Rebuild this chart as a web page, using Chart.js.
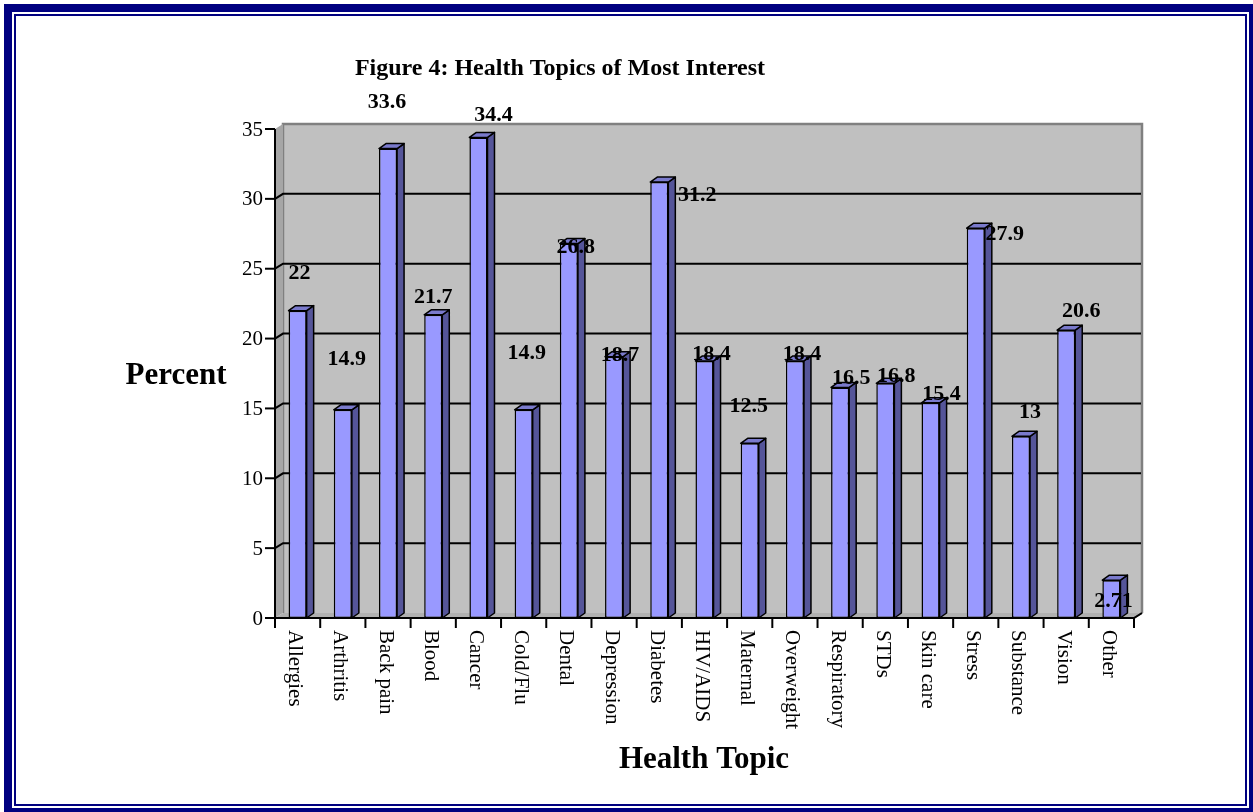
<!DOCTYPE html>
<html>
<head>
<meta charset="utf-8">
<script src="https://cdn.jsdelivr.net/npm/chart.js@4.4.1/dist/chart.umd.min.js"></script>
<style>
  html, body { margin: 0; padding: 0; background: #fff; }
  #wrap { position: relative; width: 1253px; height: 812px; }
  canvas { position: absolute; left: 0; top: 0; }
</style>
</head>
<body>
<div id="wrap"><canvas id="c" width="1253" height="812"></canvas></div>
<script>
// data
const topics = ['Allergies', 'Arthritis', 'Back pain', 'Blood', 'Cancer', 'Cold/Flu', 'Dental',
  'Depression', 'Diabetes', 'HIV/AIDS', 'Maternal', 'Overweight', 'Respiratory', 'STDs',
  'Skin care', 'Stress', 'Substance', 'Vision', 'Other'];
const percent = [22, 14.9, 33.6, 21.7, 34.4, 14.9, 26.8, 18.7, 31.2, 18.4, 12.5, 18.4, 16.5, 16.8,
  15.4, 27.9, 13, 20.6, 2.71];
const yTicks = [0, 5, 10, 15, 20, 25, 30, 35];

// label nudges (dx, dy from bar top) - mimics Excel's placement
const labelDx = [2, 4, -1, 0, 15, 3, 7, 6, 38, 7, -1, 7, 11, 11, 11, 29, 9, 15, 2];
const labelDy = [-37, -51, -46, -18, -22, -57, 4, -1, 13, -7, -37, -7, -9, -7, -9, 6, -24, -19, 21];

const SERIF = '"Liberation Serif", "Times New Roman", serif';
const WALL_DX = 8, WALL_DY = 5;   // depth of walls
const BAR_DX = 7, BAR_DY = 5;     // depth of bars

const scenery = {
  id: 'scenery',
  beforeDatasetsDraw(chart) {
    const { ctx, chartArea: a, scales: { y } } = chart;
    ctx.save();
    // back wall
    ctx.fillStyle = '#c0c0c0';
    ctx.fillRect(a.left + WALL_DX, a.top - WALL_DY, a.right - a.left, a.bottom - a.top);
    ctx.strokeStyle = '#808080';
    ctx.lineWidth = 2.5;
    ctx.beginPath();
    ctx.moveTo(a.left + WALL_DX, a.bottom - WALL_DY);
    ctx.lineTo(a.left + WALL_DX, a.top - WALL_DY);
    ctx.lineTo(a.right + WALL_DX, a.top - WALL_DY);
    ctx.lineTo(a.right + WALL_DX, a.bottom - WALL_DY);
    ctx.stroke();
    // left side wall
    ctx.fillStyle = '#a6a6a6';
    ctx.beginPath();
    ctx.moveTo(a.left, a.top);
    ctx.lineTo(a.left + WALL_DX, a.top - WALL_DY);
    ctx.lineTo(a.left + WALL_DX, a.bottom - WALL_DY);
    ctx.lineTo(a.left, a.bottom);
    ctx.closePath();
    ctx.fill();
    // floor
    ctx.fillStyle = '#b0b0b0';
    ctx.beginPath();
    ctx.moveTo(a.left, a.bottom);
    ctx.lineTo(a.left + WALL_DX, a.bottom - WALL_DY);
    ctx.lineTo(a.right + WALL_DX, a.bottom - WALL_DY);
    ctx.lineTo(a.right, a.bottom);
    ctx.closePath();
    ctx.fill();
    ctx.strokeStyle = '#808080';
    ctx.lineWidth = 1.5;
    ctx.beginPath();
    ctx.moveTo(a.right, a.bottom);
    ctx.lineTo(a.right + WALL_DX, a.bottom - WALL_DY);
    ctx.stroke();

    // gridlines
    ctx.strokeStyle = '#000';
    ctx.lineWidth = 2;
    yTicks.forEach(v => {
      if (v === 0 || v === 35) return;
      const py = y.getPixelForValue(v);
      ctx.beginPath();
      ctx.moveTo(a.left, py);
      ctx.lineTo(a.left + WALL_DX, py - WALL_DY);
      ctx.lineTo(a.right + WALL_DX - 1, py - WALL_DY);
      ctx.stroke();
    });

    // y axis + ticks
    ctx.lineWidth = 2;
    ctx.beginPath();
    ctx.moveTo(a.left, a.top);
    ctx.lineTo(a.left, a.bottom);
    ctx.lineTo(a.right, a.bottom);
    ctx.lineTo(a.right + WALL_DX, a.bottom - WALL_DY);
    ctx.stroke();
    ctx.fillStyle = '#000';
    ctx.font = '21px ' + SERIF;
    ctx.textAlign = 'right';
    ctx.textBaseline = 'middle';
    yTicks.forEach(v => {
      const py = y.getPixelForValue(v);
      ctx.beginPath();
      ctx.moveTo(a.left - 10, py);
      ctx.lineTo(a.left, py);
      ctx.stroke();
      ctx.fillText(String(v), a.left - 12, py + 1);
    });

    // x ticks
    const n = topics.length;
    const step = (a.right - a.left) / n;
    for (let i = 0; i <= n; i++) {
      const px = a.left + i * step;
      ctx.beginPath();
      ctx.moveTo(px, a.bottom);
      ctx.lineTo(px, a.bottom + 10);
      ctx.stroke();
    }
    ctx.restore();
  },
  afterDatasetsDraw(chart) {
    const { ctx, chartArea: a } = chart;
    const meta = chart.getDatasetMeta(0);
    ctx.save();
    ctx.strokeStyle = '#000';
    ctx.lineWidth = 1.5;
    ctx.lineJoin = 'round';
    meta.data.forEach((bar, i) => {
      const { x, y, base, width } = bar.getProps(['x', 'y', 'base', 'width'], true);
      const l = x - width / 2, r = x + width / 2;
      // side face
      ctx.fillStyle = '#555599';
      ctx.beginPath();
      ctx.moveTo(r, y);
      ctx.lineTo(r + BAR_DX, y - BAR_DY);
      ctx.lineTo(r + BAR_DX, base - BAR_DY);
      ctx.lineTo(r, base);
      ctx.closePath();
      ctx.fill();
      ctx.stroke();
      // top face
      ctx.fillStyle = '#7a7acc';
      ctx.beginPath();
      ctx.moveTo(l, y);
      ctx.lineTo(l + BAR_DX, y - BAR_DY);
      ctx.lineTo(r + BAR_DX, y - BAR_DY);
      ctx.lineTo(r, y);
      ctx.closePath();
      ctx.fill();
      ctx.stroke();
    });

    // value labels
    ctx.fillStyle = '#000';
    ctx.font = 'bold 22px ' + SERIF;
    ctx.textAlign = 'center';
    ctx.textBaseline = 'middle';
    meta.data.forEach((bar, i) => {
      ctx.fillText(String(percent[i]), bar.x + labelDx[i], bar.y + labelDy[i]);
    });

    // category labels, rotated clockwise
    ctx.font = '21px ' + SERIF;
    ctx.textAlign = 'left';
    ctx.textBaseline = 'middle';
    meta.data.forEach((bar, i) => {
      ctx.save();
      ctx.translate(bar.x - 3, a.bottom + 12);
      ctx.rotate(Math.PI / 2);
      ctx.fillText(topics[i], 0, 0);
      ctx.restore();
    });

    // titles
    ctx.textAlign = 'center';
    ctx.textBaseline = 'alphabetic';
    ctx.font = 'bold 24px ' + SERIF;
    ctx.fillText('Figure 4: Health Topics of Most Interest', 560, 75);
    ctx.font = 'bold 31px ' + SERIF;
    ctx.fillText('Percent', 176, 384);
    ctx.fillText('Health Topic', 704, 768);
    ctx.restore();
  },
  afterDraw(chart) {
    const { ctx } = chart;
    ctx.save();
    ctx.fillStyle = '#000080';
    // outer band
    ctx.fillRect(4, 4, 1249, 8);
    ctx.fillRect(4, 4, 8, 808);
    ctx.fillRect(1249, 4, 4, 808);
    ctx.fillRect(4, 808, 1249, 4);
    // inner line
    ctx.fillRect(14, 14, 1233, 2);
    ctx.fillRect(14, 14, 2, 792);
    ctx.fillRect(1245, 14, 2, 792);
    ctx.fillRect(14, 804, 1233, 2);
    ctx.restore();
  }
};

new Chart(document.getElementById('c'), {
  type: 'bar',
  data: {
    labels: topics,
    datasets: [{
      data: percent,
      backgroundColor: '#9999ff',
      borderColor: '#000',
      borderWidth: 1.5,
      borderSkipped: false,
      categoryPercentage: 1,
      barPercentage: 0.4
    }]
  },
  options: {
    responsive: false,
    animation: false,
    devicePixelRatio: 1,
    layout: { padding: { left: 275, right: 119, top: 129, bottom: 194 } },
    plugins: { legend: { display: false }, tooltip: { enabled: false } },
    scales: {
      x: { display: false },
      y: { display: false, min: 0, max: 35 }
    }
  },
  plugins: [scenery]
});
</script>
</body>
</html>
